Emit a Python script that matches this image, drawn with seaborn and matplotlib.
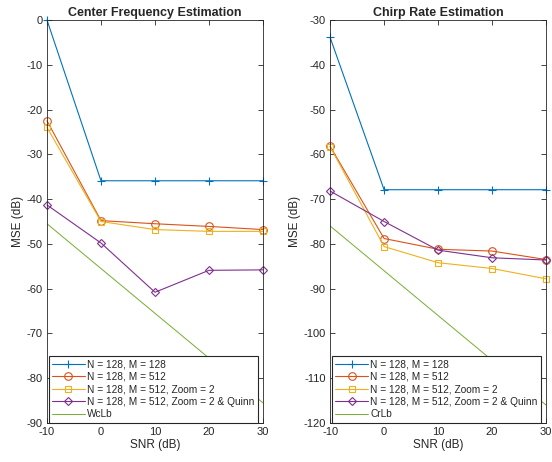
import matplotlib
matplotlib.use("Agg")
import matplotlib.pyplot as plt
import seaborn as sns
import pandas as pd

snr = [-10, 0, 10, 20, 30]

cf_m128 = [0.0, -35.9, -35.9, -35.9, -35.9]
cf_m512 = [-22.5, -44.8, -45.5, -46.1, -46.8]
cf_zoom = [-24.0, -45.0, -46.8, -47.2, -47.2]
cf_quinn = [-41.3, -49.8, -60.8, -55.9, -55.8]
cf_bound = [-45.5, -55.5, -65.5, -75.5, -85.5]

cr_m128 = [-33.9, -67.9, -67.9, -67.9, -67.9]
cr_m512 = [-58.2, -78.8, -81.2, -81.6, -83.5]
cr_zoom = [-58.3, -80.6, -84.2, -85.5, -87.8]
cr_quinn = [-68.2, -75.0, -81.4, -83.1, -83.6]
cr_bound = [-76.0, -86.0, -96.0, -106.0, -116.0]

labels = ["N = 128, M = 128", "N = 128, M = 512", "N = 128, M = 512, Zoom = 2",
          "N = 128, M = 512, Zoom = 2 & Quinn"]
titles = ["Center Frequency Estimation", "Chirp Rate Estimation"]
bound_labels = ["WcLb", "CrLb"]
xticks = [-10, 0, 10, 20, 30]
yticks_l = list(range(-90, 1, 10))
yticks_r = list(range(-120, -29, 10))

sns.set_style("ticks")
plt.rcParams['font.family'] = ['Liberation Sans', 'DejaVu Sans']
plt.rcParams['xtick.direction'] = 'in'
plt.rcParams['ytick.direction'] = 'in'
plt.rcParams['axes.unicode_minus'] = False

colors = ["#0072BD", "#D95319", "#EDB120", "#7E2F8E", "#77AC30"]
markers = ["+", "o", "s", "D"]
msizes = [5.5, 5.5, 4.5, 4.5]

fig = plt.figure(figsize=(5.52, 4.62), dpi=100)
ax1 = fig.add_axes([0.0851, 0.0844, 0.3913, 0.8723])
ax2 = fig.add_axes([0.5980, 0.0844, 0.3913, 0.8723])

panels = [
    (ax1, [cf_m128, cf_m512, cf_zoom, cf_quinn], cf_bound, (-90, 0), yticks_l),
    (ax2, [cr_m128, cr_m512, cr_zoom, cr_quinn], cr_bound, (-120, -30), yticks_r),
]

for i, (ax, series, bound, ylim, yt) in enumerate(panels):
    for j, s in enumerate(series):
        df = pd.DataFrame({"snr": snr, "mse": s})
        sns.lineplot(data=df, x="snr", y="mse", ax=ax, color=colors[j],
                     marker=markers[j], markersize=msizes[j],
                     markerfacecolor="none", markeredgecolor=colors[j],
                     markeredgewidth=0.8, linewidth=0.8, label=labels[j],
                     clip_on=False)
    dfb = pd.DataFrame({"snr": snr, "mse": bound})
    sns.lineplot(data=dfb, x="snr", y="mse", ax=ax, color=colors[4],
                 linewidth=0.7, label=bound_labels[i])
    ax.set_xlim(-10, 30)
    ax.set_ylim(*ylim)
    ax.set_xticks(xticks)
    ax.set_yticks(yt)
    ax.tick_params(axis='both', labelsize=8, colors='#262626', length=3.5,
                   top=True, right=True, width=0.6, pad=3)
    for sp in ax.spines.values():
        sp.set_visible(True)
        sp.set_color('#262626')
        sp.set_linewidth(0.6)
    ax.set_xlabel("SNR (dB)", fontsize=8.5, color='#262626', labelpad=1)
    ax.set_ylabel("MSE (dB)", fontsize=8.5, color='#262626', labelpad=2)
    ax.set_title(titles[i], fontsize=9, fontweight='bold', pad=3)
    leg = ax.legend(loc='lower left', bbox_to_anchor=(0.008, 0.0), borderaxespad=0,
                    fontsize=7.3, handlelength=3.2, labelspacing=0.25,
                    handletextpad=0.25, borderpad=0.35, fancybox=False,
                    framealpha=1, edgecolor='#262626')
    leg.get_frame().set_linewidth(0.8)

fig.savefig("out.png", dpi=100)
